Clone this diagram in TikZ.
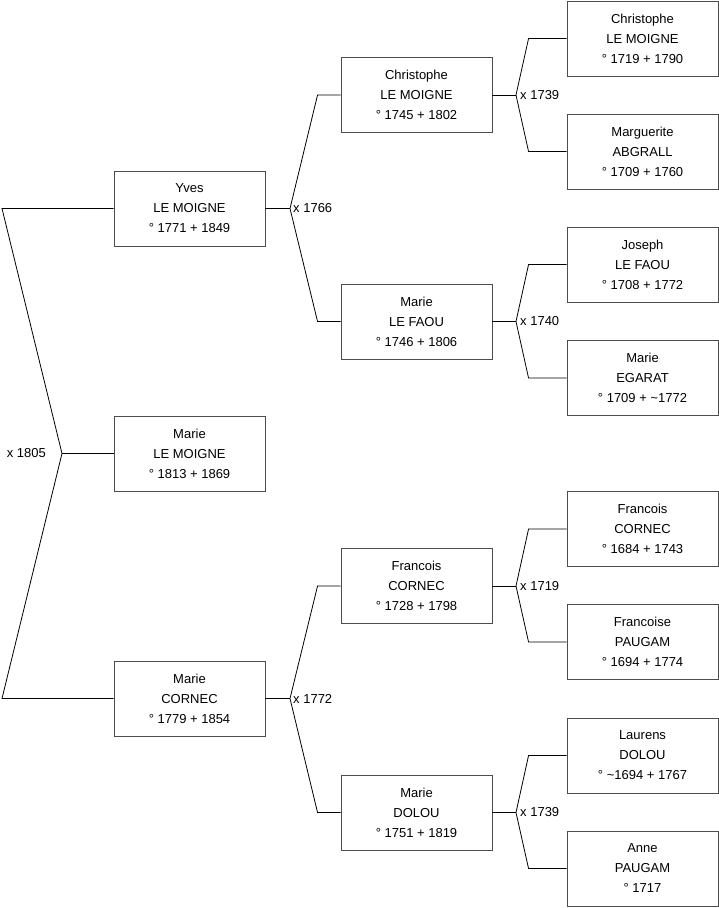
\documentclass[tikz,border=0pt]{standalone}
\usepackage{fontspec}
\setmainfont{Liberation Sans}
\usetikzlibrary{calc}

\begin{document}
\begin{tikzpicture}[x=1pt, y=-1pt,
  person/.style={draw=black!70, line width=0.9pt, minimum width=151pt, minimum height=75pt,
    inner sep=0pt, align=center, font=\fontsize{13}{20}\selectfont},
  link/.style={black, line width=0.8pt},
  year/.style={font=\fontsize{13}{15}\selectfont, inner sep=0pt}]
\useasboundingbox (0,0) rectangle (719,908);
% first column
\node[person] (yves) at (189.5,208.5) {Yves\\LE MOIGNE\\° 1771 + 1849};
\node[person] (marie) at (189.5,453.5) {Marie\\LE MOIGNE\\° 1813 + 1869};
\node[person] (mcornec) at (189.5,698.5) {Marie\\CORNEC\\° 1779 + 1854};
% second column
\node[person] (christ) at (416.5,95) {Christophe\\LE MOIGNE\\° 1745 + 1802};
\node[person] (lefaou) at (416.5,321.5) {Marie\\LE FAOU\\° 1746 + 1806};
\node[person] (fcornec) at (416.5,586) {Francois\\CORNEC\\° 1728 + 1798};
\node[person] (dolou) at (416.5,812.5) {Marie\\DOLOU\\° 1751 + 1819};
% third column
\node[person] (christ2) at (642.5,38.5) {Christophe\\LE MOIGNE\\° 1719 + 1790};
\node[person] (abgrall) at (642.5,151.5) {Marguerite\\ABGRALL\\° 1709 + 1760};
\node[person] (joseph) at (642.5,264.5) {Joseph\\LE FAOU\\° 1708 + 1772};
\node[person] (egarat) at (642.5,378) {Marie\\EGARAT\\° 1709 + \textasciitilde 1772};
\node[person] (fcornec2) at (642.5,529) {Francois\\CORNEC\\° 1684 + 1743};
\node[person] (paugam) at (642.5,642) {Francoise\\PAUGAM\\° 1694 + 1774};
\node[person] (laurens) at (642.5,755.5) {Laurens\\DOLOU\\° \textasciitilde 1694 + 1767};
\node[person] (anne) at (642.5,868.5) {Anne\\PAUGAM\\° 1717};

% marriage forks
\coordinate (m0) at (62,453.5);
\coordinate (m0a) at (2,208.5);
\coordinate (m0b) at (2,698.5);
\coordinate (m1) at (290,208.5);
\coordinate (m2) at (290,698.5);
\coordinate (m3) at (516,95);
\coordinate (m4) at (516,321.5);
\coordinate (m5) at (516,586);
\coordinate (m6) at (516,812.5);

\draw[link] (yves.west) -- (m0a) -- (m0) -- (m0b) -- (mcornec.west);
\draw[link] (m0) -- (marie.west);
\node[year, anchor=east] (y0) at ([xshift=-16pt]m0) {x 1805};

\draw[link] (christ.west) -- ++(-23,0) -- (m1) -- ($(lefaou.west)+(-23,0)$) -- (lefaou.west);
\draw[link] (yves.east) -- (m1);
\node[year, anchor=west] (y1) at ([xshift=3pt]m1) {x 1766};

\draw[link] (fcornec.west) -- ++(-23,0) -- (m2) -- ($(dolou.west)+(-23,0)$) -- (dolou.west);
\draw[link] (mcornec.east) -- (m2);
\node[year, anchor=west] (y2) at ([xshift=3pt]m2) {x 1772};

\draw[link] (christ2.west) -- ++(-38,0) -- (m3) -- ($(abgrall.west)+(-38,0)$) -- (abgrall.west);
\draw[link] (christ.east) -- (m3);
\node[year, anchor=west] (y3) at ([xshift=4pt]m3) {x 1739};

\draw[link] (joseph.west) -- ++(-38,0) -- (m4) -- ($(egarat.west)+(-38,0)$) -- (egarat.west);
\draw[link] (lefaou.east) -- (m4);
\node[year, anchor=west] (y4) at ([xshift=4pt]m4) {x 1740};

\draw[link] (fcornec2.west) -- ++(-38,0) -- (m5) -- ($(paugam.west)+(-38,0)$) -- (paugam.west);
\draw[link] (fcornec.east) -- (m5);
\node[year, anchor=west] (y5) at ([xshift=4pt]m5) {x 1719};

\draw[link] (laurens.west) -- ++(-38,0) -- (m6) -- ($(anne.west)+(-38,0)$) -- (anne.west);
\draw[link] (dolou.east) -- (m6);
\node[year, anchor=west] (y6) at ([xshift=4pt]m6) {x 1739};
\end{tikzpicture}
\end{document}
